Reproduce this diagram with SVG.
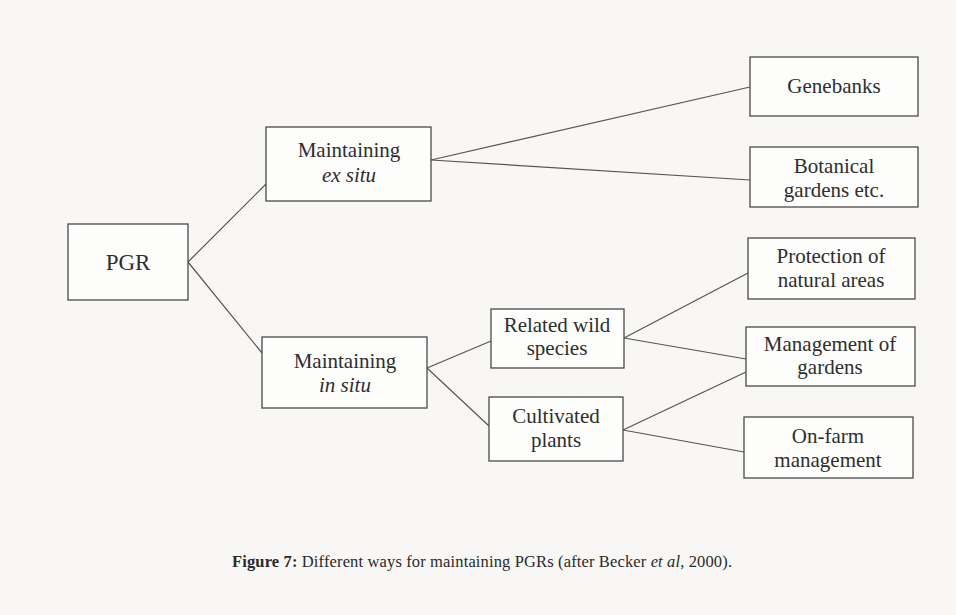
<svg xmlns="http://www.w3.org/2000/svg" width="956" height="615" viewBox="0 0 956 615">
  <style>
    .box { fill: #fdfdfc; stroke: #4a4a4a; stroke-width: 1.3; }
    .lbl { font-family: "Liberation Serif", "DejaVu Serif", serif; font-size: 21px; fill: #2e2e2e; text-anchor: middle; }
    .it { font-style: italic; }
    .wire { fill: none; stroke: #555; stroke-width: 1.2; }
    .cap { font-family: "Liberation Serif", "DejaVu Serif", serif; font-size: 16.5px; fill: #2a2a2a; }
  </style>
  <rect x="0" y="0" width="956" height="615" fill="#f8f7f5"/>

  <!-- connectors -->
  <g id="connectors" class="wire">
    <line x1="188" y1="262" x2="266" y2="184"/>
    <line x1="188" y1="262" x2="262" y2="353"/>
    <line x1="431" y1="160" x2="750" y2="87"/>
    <line x1="431" y1="160" x2="750" y2="180"/>
    <line x1="427" y1="368" x2="491" y2="341"/>
    <line x1="427" y1="368" x2="489" y2="426"/>
    <line x1="624" y1="338" x2="748" y2="273"/>
    <line x1="624" y1="338" x2="746" y2="359"/>
    <line x1="623" y1="430" x2="746" y2="372"/>
    <line x1="623" y1="430" x2="744" y2="452"/>
  </g>

  <g id="pgr">
    <rect class="box" x="68" y="224" width="120" height="76"/>
    <text class="lbl" x="128" y="270" style="font-size:23px">PGR</text>
  </g>

  <g id="ex-situ">
    <rect class="box" x="266" y="127" width="165" height="74"/>
    <text class="lbl" x="349" y="157">Maintaining</text>
    <text class="lbl it" x="349" y="182">ex situ</text>
  </g>

  <g id="in-situ">
    <rect class="box" x="262" y="337" width="165" height="71"/>
    <text class="lbl" x="345" y="368">Maintaining</text>
    <text class="lbl it" x="345" y="392">in situ</text>
  </g>

  <g id="genebanks">
    <rect class="box" x="750" y="57" width="168" height="59"/>
    <text class="lbl" x="834" y="93">Genebanks</text>
  </g>

  <g id="botanical">
    <rect class="box" x="750" y="147" width="168" height="60"/>
    <text class="lbl" x="834" y="173">Botanical</text>
    <text class="lbl" x="834" y="197">gardens etc.</text>
  </g>

  <g id="wild">
    <rect class="box" x="491" y="309" width="133" height="59"/>
    <text class="lbl" x="557" y="332">Related wild</text>
    <text class="lbl" x="557" y="355">species</text>
  </g>

  <g id="cultivated">
    <rect class="box" x="489" y="397" width="134" height="64"/>
    <text class="lbl" x="556" y="423">Cultivated</text>
    <text class="lbl" x="556" y="447">plants</text>
  </g>

  <g id="protection">
    <rect class="box" x="748" y="238" width="167" height="61"/>
    <text class="lbl" x="831" y="263">Protection of</text>
    <text class="lbl" x="831" y="287">natural areas</text>
  </g>

  <g id="gardens">
    <rect class="box" x="746" y="327" width="169" height="59"/>
    <text class="lbl" x="830" y="351">Management of</text>
    <text class="lbl" x="830" y="374">gardens</text>
  </g>

  <g id="on-farm">
    <rect class="box" x="744" y="417" width="169" height="61"/>
    <text class="lbl" x="828" y="443">On-farm</text>
    <text class="lbl" x="828" y="467">management</text>
  </g>

  <text class="cap" x="232" y="567" textLength="500" lengthAdjust="spacing"><tspan font-weight="bold">Figure 7:</tspan> Different ways for maintaining PGRs (after Becker <tspan font-style="italic">et al</tspan>, 2000).</text>
</svg>
